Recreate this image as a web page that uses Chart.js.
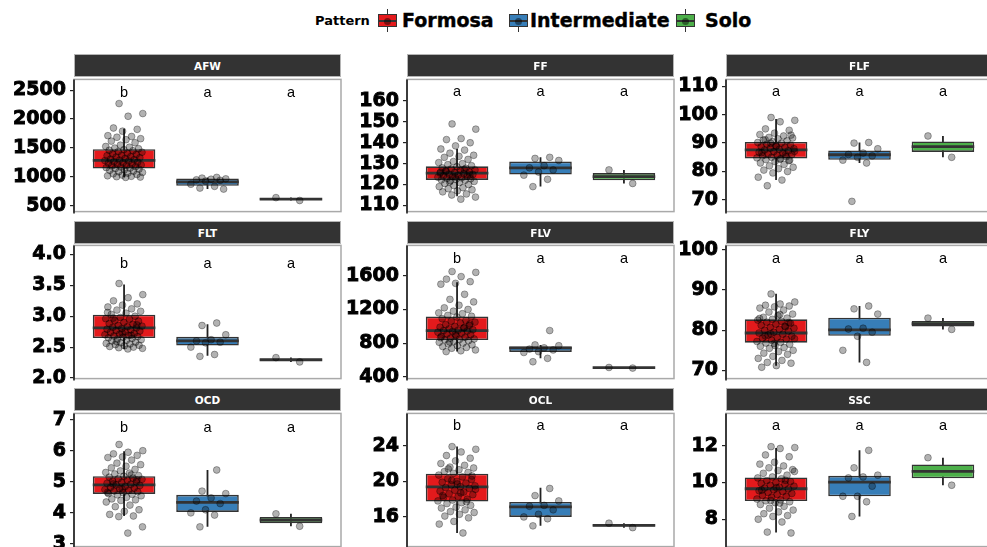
<!DOCTYPE html>
<html>
<head>
<meta charset="utf-8">
<script src="https://cdn.jsdelivr.net/npm/chart.js@4.4.1/dist/chart.umd.min.js"></script>
<style>
  html, body { margin: 0; padding: 0; background: #fff; }
  body { width: 987px; height: 547px; overflow: hidden; position: relative; font-family: 'DejaVu Sans', sans-serif; }
  canvas.panel { position: absolute; }
  .strip { position: absolute; background: #333333; color: #fff; box-sizing: border-box;
           border: 1px solid #b5b5b5; display: flex; align-items: center; justify-content: center;
           font: bold 10.5px 'DejaVu Sans', sans-serif; z-index: 2; }
  .lgtitle { position: absolute; top: 14px; left: 315px; font: bold 13px 'DejaVu Sans', sans-serif; line-height: 1; white-space: nowrap; }
  .lgtext { position: absolute; top: 11px; font: bold 19px 'DejaVu Sans', sans-serif; line-height: 1; white-space: nowrap; -webkit-text-stroke: 0.4px #000; }
  .key { position: absolute; top: 7px; width: 19px; height: 27px; }
  .key i { position: absolute; display: block; }
  .key .wh { left: 8.5px; top: 2px; width: 1.6px; height: 23px; background: #333; }
  .key .bx { left: 0; top: 7px; width: 19px; height: 13px; border: 1px solid #333; box-sizing: border-box; }
  .key .md { left: 0; top: 12.5px; width: 19px; height: 2px; background: #333; }
  .key .dt { left: 6px; top: 10.5px; width: 7px; height: 7px; border-radius: 50%; background: rgba(0,0,0,0.45); }
</style>
</head>
<body>
<script>
// ---- groups and colours ----
const patterns = ['Formosa', 'Intermediate', 'Solo'];
const fills = ['#E41A1C', '#377EB8', '#4DAF4A'];

// ---- AFW ----
const afwFormosa = [2268, 2095, 2048, 1845, 1822, 1790, 1712, 1698, 1685, 1660, 1642, 1618, 1590, 1548, 1525, 1512, 1498, 1486, 1471, 1460, 1452, 1437, 1425, 1408, 1396, 1388, 1372, 1365, 1351, 1342, 1330, 1318, 1306, 1297, 1289, 1281, 1274, 1262, 1255, 1243, 1236, 1224, 1218, 1205, 1196, 1188, 1175, 1168, 1159, 1150, 1142, 1133, 1121, 1112, 1098, 1087, 1076, 1064, 1052, 1041, 1030, 1018, 1009, 1002, 996, 990];
const afwIntermediate = [990, 978, 965, 958, 948, 940, 925, 872, 835, 805, 788];
const afwSolo = [640, 590];
const afwBox = [[995, 1144, 1285, 1478, 1834], [788, 844, 912, 969, 990], [590, 602, 615, 627, 640]];
const afwTicks = [500, 1000, 1500, 2000, 2500];
const afwRange = [398, 2686];
const afwLetters = ['b', 'a', 'a'];
const afwLetterY = 2381;

// ---- FF ----
const ffFormosa = [149, 146.5, 142, 141.5, 140, 138.5, 137, 136.5, 135, 134, 133.5, 133, 132, 131, 130.5, 130, 129.5, 129, 128.5, 128, 127.8, 127.5, 127, 126.8, 126.5, 126, 125.8, 125.5, 125.2, 125, 124.8, 124.5, 124.2, 124, 123.8, 123.5, 123.2, 123, 122.8, 122.5, 122.2, 122, 121.8, 121.5, 121, 120.5, 120, 119.5, 119, 118.5, 118, 117.5, 117, 116.5, 115.5, 115, 114, 113, 126.3, 124.6, 123.6, 125.9, 127.2, 121.2];
const ffIntermediate = [133, 132.5, 131.5, 129, 128, 127, 126, 124.5, 122.5, 119];
const ffSolo = [127, 120.5];
const ffBox = [[114.4, 122.2, 125.5, 128.7, 137], [119, 124.8, 128, 131, 133], [120.5, 122, 123.8, 125.5, 127]];
const ffTicks = [110, 120, 130, 140, 150, 160];
const ffRange = [107.05, 170.3];
const ffLetters = ['a', 'a', 'a'];
const ffLetterY = 162.3;

// ---- FLF ----
const flfFormosa = [99, 98, 97.5, 95, 94.5, 93.5, 93, 92.5, 92, 91.8, 91.5, 91, 90.8, 90.5, 90.2, 90, 89.6, 89.3, 89, 88.7, 88.5, 88.2, 88, 87.8, 87.6, 87.3, 87, 86.8, 86.5, 86.2, 86, 85.7, 85.5, 85.2, 85, 84.8, 84.5, 84.2, 84, 83.5, 83, 82.5, 82, 81.5, 81, 80.5, 80, 79.5, 78, 77, 75, 92.8, 88.9, 86.6, 85.9, 89.9, 87.1, 84.3, 91.2, 83.8];
const flfIntermediate = [90.2, 90, 88, 86.5, 86, 85.5, 85, 84, 83, 69.5];
const flfSolo = [92.5, 85];
const flfBox = [[77, 84.6, 87.6, 90.4, 98.5], [83, 84.1, 85.9, 87.4, 90.2], [85, 86.9, 88.75, 90.6, 92.5]];
const flfTicks = [70, 80, 90, 100, 110];
const flfRange = [65.9, 112.4];
const flfLetters = ['a', 'a', 'a'];
const flfLetterY = 106.6;

// ---- FLT ----
const fltFormosa = [3.53, 3.35, 3.3, 3.25, 3.2, 3.18, 3.15, 3.12, 3.1, 3.08, 3.05, 3.03, 3.0, 2.98, 2.96, 2.95, 2.93, 2.92, 2.9, 2.88, 2.87, 2.85, 2.84, 2.83, 2.82, 2.81, 2.8, 2.79, 2.78, 2.77, 2.76, 2.75, 2.74, 2.72, 2.71, 2.7, 2.69, 2.68, 2.67, 2.66, 2.65, 2.64, 2.63, 2.62, 2.61, 2.6, 2.58, 2.57, 2.56, 2.55, 2.54, 2.53, 2.52, 2.51, 2.5, 2.49, 2.48, 2.47, 2.97, 2.86, 2.73, 3.06, 2.69, 2.59];
const fltIntermediate = [2.89, 2.85, 2.7, 2.62, 2.6, 2.58, 2.57, 2.5, 2.38, 2.35];
const fltSolo = [2.33, 2.26];
const fltBox = [[2.47, 2.646, 2.81, 3.025, 3.515], [2.36, 2.525, 2.6, 2.667, 2.87], [2.26, 2.28, 2.295, 2.31, 2.33]];
const fltTicks = [2.0, 2.5, 3.0, 3.5, 4.0];
const fltRange = [1.99, 4.147];
const fltLetters = ['b', 'a', 'a'];
const fltLetterY = 3.78;

// ---- FLV ----
const flvFormosa = [1650, 1640, 1590, 1560, 1530, 1510, 1500, 1380, 1320, 1290, 1250, 1220, 1200, 1180, 1160, 1150, 1130, 1120, 1110, 1090, 1070, 1060, 1050, 1040, 1020, 1010, 1000, 990, 980, 970, 960, 955, 950, 945, 940, 930, 920, 910, 900, 890, 880, 870, 860, 850, 845, 840, 830, 820, 810, 800, 790, 780, 770, 760, 750, 740, 720, 710, 700, 1030, 905, 865, 985, 815];
const flvIntermediate = [950, 780, 770, 745, 730, 720, 700, 690, 620, 580];
const flvSolo = [512, 505];
const flvBox = [[700, 837, 950, 1116, 1522], [620, 697, 745, 762, 780], [505, 507, 509, 510, 512]];
const flvTicks = [400, 800, 1200, 1600];
const flvRange = [380, 1960];
const flvLetters = ['b', 'a', 'a'];
const flvLetterY = 1751;

// ---- FLY ----
const flyFormosa = [89, 87, 86.5, 86.2, 86, 85.8, 85.5, 85, 84.5, 84, 83.6, 83.2, 83, 82.7, 82.5, 82.2, 82, 81.7, 81.5, 81.2, 81, 80.7, 80.5, 80.2, 80, 79.8, 79.5, 79.3, 79, 78.8, 78.5, 78.2, 78, 77.8, 77.5, 77.2, 77, 76.8, 76.5, 76.2, 76, 75.7, 75.5, 75, 74.7, 74.3, 74, 73.5, 73, 72.5, 72, 71.8, 71.2, 70.8, 80.8, 79.1, 77.9, 83.9, 78.6, 81.9, 76.7, 82.9];
const flyIntermediate = [86, 85.3, 84, 80.5, 80.3, 79.5, 78.5, 75, 72];
const flySolo = [83, 80.2];
const flyBox = [[71.2, 76.9, 79.3, 82.7, 89.05], [72, 78.6, 80.1, 83.1, 86], [80.2, 80.9, 81.6, 82.3, 83]];
const flyTicks = [70, 80, 90, 100];
const flyRange = [67.98, 101.05];
const flyLetters = ['a', 'a', 'a'];
const flyLetterY = 96.7;

// ---- OCD ----
const ocdFormosa = [6.2, 6.0, 5.95, 5.9, 5.85, 5.8, 5.78, 5.7, 5.6, 5.55, 5.5, 5.45, 5.4, 5.35, 5.3, 5.28, 5.25, 5.2, 5.18, 5.15, 5.12, 5.1, 5.08, 5.05, 5.02, 5.0, 4.98, 4.95, 4.92, 4.9, 4.88, 4.85, 4.82, 4.8, 4.78, 4.75, 4.72, 4.7, 4.68, 4.65, 4.62, 4.6, 4.58, 4.55, 4.5, 4.45, 4.42, 4.4, 4.35, 4.25, 4.2, 4.1, 4.05, 3.95, 3.9, 3.88, 3.55, 3.35, 4.93, 5.06, 4.76, 4.66, 5.22];
const ocdIntermediate = [5.38, 4.7, 4.62, 4.48, 4.38, 4.3, 4.1, 4.0, 3.93, 3.55];
const ocdSolo = [3.97, 3.57];
const ocdBox = [[3.9, 4.61, 4.9, 5.18, 5.98], [3.55, 4.03, 4.34, 4.58, 5.38], [3.57, 3.67, 3.77, 3.87, 3.97]];
const ocdTicks = [3, 4, 5, 6, 7];
const ocdRange = [2.915, 7.2];
const ocdLetters = ['b', 'a', 'a'];
const ocdLetterY = 6.6;

// ---- OCL ----
const oclFormosa = [23.9, 23.6, 23.3, 22.9, 22.6, 22.3, 22.0, 21.8, 21.6, 21.5, 21.3, 21.1, 21.0, 20.9, 20.7, 20.5, 20.3, 20.2, 20.0, 19.9, 19.8, 19.6, 19.5, 19.4, 19.3, 19.2, 19.0, 18.9, 18.8, 18.6, 18.5, 18.3, 18.2, 18.0, 17.9, 17.8, 17.6, 17.5, 17.3, 17.1, 17.0, 16.8, 16.6, 16.5, 16.3, 16.1, 15.9, 15.5, 15.2, 14.2, 21.4, 20.6, 19.7, 18.4, 17.7, 20.1, 19.1, 18.7];
const oclIntermediate = [19.2, 18.4, 17.8, 17.3, 17.2, 16.8, 16.3, 16.0, 15.8, 15.0];
const oclSolo = [15.3, 14.8];
const oclBox = [[14.2, 17.73, 19.38, 20.85, 23.9], [15.0, 16.0, 17.13, 17.68, 19.27], [14.8, 14.93, 15.05, 15.18, 15.3]];
const oclTicks = [16, 20, 24];
const oclRange = [12.67, 27.63];
const oclLetters = ['b', 'a', 'a'];
const oclLetterY = 25.76;

// ---- SSC ----
const sscFormosa = [11.95, 11.9, 11.85, 11.5, 11.4, 11.1, 11.0, 10.9, 10.8, 10.7, 10.65, 10.5, 10.4, 10.3, 10.25, 10.2, 10.1, 10.05, 10.0, 9.95, 9.9, 9.85, 9.8, 9.75, 9.7, 9.65, 9.6, 9.55, 9.5, 9.45, 9.4, 9.35, 9.3, 9.25, 9.2, 9.1, 9.05, 9.0, 8.95, 8.9, 8.8, 8.7, 8.6, 8.5, 8.4, 8.3, 8.2, 8.15, 8.0, 7.85, 7.3, 7.25, 9.72, 9.58, 10.12, 9.02, 10.6, 8.88];
const sscIntermediate = [11.75, 10.8, 10.4, 10.3, 10.25, 9.8, 9.25, 9.25, 8.95, 8.15];
const sscSolo = [11.35, 9.85];
const sscBox = [[7.28, 8.99, 9.66, 10.27, 11.88], [8.15, 9.25, 10.02, 10.36, 11.75], [9.85, 10.23, 10.6, 10.98, 11.35]];
const sscTicks = [8, 10, 12];
const sscRange = [6.51, 13.76];
const sscLetters = ['a', 'a', 'a'];
const sscLetterY = 12.85;

// ---- facet table ----
const panels = [
  { name: 'AFW', groups: [afwFormosa, afwIntermediate, afwSolo], box: afwBox, ticks: afwTicks, range: afwRange, letters: afwLetters, letterY: afwLetterY },
  { name: 'FF',  groups: [ffFormosa, ffIntermediate, ffSolo],    box: ffBox,  ticks: ffTicks,  range: ffRange,  letters: ffLetters,  letterY: ffLetterY },
  { name: 'FLF', groups: [flfFormosa, flfIntermediate, flfSolo], box: flfBox, ticks: flfTicks, range: flfRange, letters: flfLetters, letterY: flfLetterY },
  { name: 'FLT', groups: [fltFormosa, fltIntermediate, fltSolo], box: fltBox, ticks: fltTicks, range: fltRange, letters: fltLetters, letterY: fltLetterY },
  { name: 'FLV', groups: [flvFormosa, flvIntermediate, flvSolo], box: flvBox, ticks: flvTicks, range: flvRange, letters: flvLetters, letterY: flvLetterY },
  { name: 'FLY', groups: [flyFormosa, flyIntermediate, flySolo], box: flyBox, ticks: flyTicks, range: flyRange, letters: flyLetters, letterY: flyLetterY },
  { name: 'OCD', groups: [ocdFormosa, ocdIntermediate, ocdSolo], box: ocdBox, ticks: ocdTicks, range: ocdRange, letters: ocdLetters, letterY: ocdLetterY },
  { name: 'OCL', groups: [oclFormosa, oclIntermediate, oclSolo], box: oclBox, ticks: oclTicks, range: oclRange, letters: oclLetters, letterY: oclLetterY },
  { name: 'SSC', groups: [sscFormosa, sscIntermediate, sscSolo], box: sscBox, ticks: sscTicks, range: sscRange, letters: sscLetters, letterY: sscLetterY }
];

// ---- page geometry ----
const colLeft = [74, 407, 726];
const plotW = 267;
const rowTop = [78, 244, 412];
const plotH = [135, 136, 136];
const stripTop = [54, 221, 388];
const stripH = 23;
const AXIS_W = 74;
const PAD = 14;
const PAD_R = 6;
const BOX_WIDTH = 0.75;
const JITTER = 0.23;

// spread points sideways within the jitter band (golden-ratio sequence)
function jitterOffset(i, g) {
  const f = (i * 0.6180339887 + 0.37 * (g + 1)) % 1;
  return (f - 0.5) * 2 * JITTER;
}

// whiskers behind the boxes, medians on top of them, frame and letters last
function boxParts(panel) {
  return {
    id: 'boxParts',
    beforeDatasetDraw(chart, args) {
      if (args.index !== 0) return;
      const { ctx, chartArea: a, scales: { x, y } } = chart;
      ctx.save();
      ctx.beginPath(); ctx.rect(a.left, a.top, a.right - a.left, a.bottom - a.top); ctx.clip();
      ctx.strokeStyle = '#222222';
      ctx.lineWidth = 1.8;
      panel.box.forEach((s, g) => {
        const px = x.getPixelForValue(g + 1);
        ctx.beginPath();
        ctx.moveTo(px, y.getPixelForValue(s[0]));
        ctx.lineTo(px, y.getPixelForValue(s[4]));
        ctx.stroke();
      });
      ctx.restore();
    },
    afterDatasetDraw(chart, args) {
      if (args.index !== 0) return;
      const { ctx, chartArea: a, scales: { x, y } } = chart;
      ctx.save();
      ctx.beginPath(); ctx.rect(a.left, a.top, a.right - a.left, a.bottom - a.top); ctx.clip();
      ctx.strokeStyle = '#333333';
      ctx.lineWidth = 2.8;
      panel.box.forEach((s, g) => {
        const py = y.getPixelForValue(s[2]);
        ctx.beginPath();
        ctx.moveTo(x.getPixelForValue(g + 1 - BOX_WIDTH / 2), py);
        ctx.lineTo(x.getPixelForValue(g + 1 + BOX_WIDTH / 2), py);
        ctx.stroke();
      });
      ctx.restore();
    },
    afterDraw(chart) {
      const { ctx, chartArea: a, scales: { x, y } } = chart;
      ctx.save();
      ctx.strokeStyle = '#a9a9a9';
      ctx.lineWidth = 1.5;
      ctx.strokeRect(a.left, a.top, a.right - a.left, a.bottom - a.top);
      ctx.strokeStyle = '#111';
      ctx.beginPath(); ctx.moveTo(a.left, a.top); ctx.lineTo(a.left, a.bottom + 2); ctx.stroke();
      ctx.fillStyle = '#000';
      ctx.font = '14.5px "Liberation Sans", Arial, sans-serif';
      ctx.textAlign = 'center';
      ctx.textBaseline = 'alphabetic';
      panel.letters.forEach((t, g) => {
        ctx.fillText(t, x.getPixelForValue(g + 1), y.getPixelForValue(panel.letterY));
      });
      ctx.restore();
    }
  };
}

function tickText(v, ticks) {
  const frac = ticks.some(t => Math.round(t) !== t);
  return frac ? v.toFixed(1) : String(v);
}

panels.forEach((panel, k) => {
  const r = Math.floor(k / 3), c = k % 3;

  const cv = document.createElement('canvas');
  cv.className = 'panel';
  cv.width = AXIS_W + plotW + PAD_R;
  cv.height = plotH[r] + 2 * PAD;
  cv.style.left = (colLeft[c] - AXIS_W) + 'px';
  cv.style.top = (rowTop[r] - PAD) + 'px';
  document.body.appendChild(cv);

  const strip = document.createElement('div');
  strip.className = 'strip';
  strip.textContent = panel.name;
  strip.style.left = colLeft[c] + 'px';
  strip.style.top = stripTop[r] + 'px';
  strip.style.width = plotW + 'px';
  strip.style.height = stripH + 'px';
  document.body.appendChild(strip);

  const boxData = panel.box.map((s, g) => ({ x: g + 1, y: [s[1], s[3]] }));
  const pointData = [];
  panel.groups.forEach((vals, g) => {
    vals.forEach((v, i) => pointData.push({ x: g + 1 + jitterOffset(i, g), y: v }));
  });

  new Chart(cv, {
    type: 'bar',
    data: {
      datasets: [
        {
          label: 'box',
          data: boxData,
          backgroundColor: fills,
          borderColor: '#333333',
          borderWidth: 1.6,
          borderSkipped: false,
          barPercentage: BOX_WIDTH,
          categoryPercentage: 1,
          order: 2
        },
        {
          type: 'scatter',
          label: 'obs',
          data: pointData,
          pointRadius: 3.4,
          pointBackgroundColor: 'rgba(0,0,0,0.3)',
          pointBorderColor: 'rgba(0,0,0,0.4)',
          pointBorderWidth: 0.8,
          order: 1
        }
      ]
    },
    options: {
      responsive: false,
      animation: false,
      devicePixelRatio: 1,
      events: [],
      layout: { padding: { top: PAD, bottom: PAD, left: 0, right: PAD_R } },
      plugins: { legend: { display: false }, tooltip: { enabled: false } },
      scales: {
        x: {
          type: 'linear', min: 0.4, max: 3.6, offset: false, display: false,
          afterBuildTicks: s => { s.ticks = [1, 2, 3].map(v => ({ value: v })); }
        },
        y: {
          type: 'linear', min: panel.range[0], max: panel.range[1],
          afterBuildTicks: s => { s.ticks = panel.ticks.map(v => ({ value: v })); },
          afterFit: s => { s.width = AXIS_W; },
          border: { display: false },
          grid: { display: true, drawOnChartArea: false, drawTicks: true, tickLength: 4, color: '#222', lineWidth: 1.2 },
          ticks: {
            color: '#000', padding: 4, autoSkip: false,
            textStrokeColor: '#000', textStrokeWidth: 0.9,
            font: { family: 'DejaVu Sans', weight: 'bold', size: 19 },
            callback: v => tickText(v, panel.ticks)
          }
        }
      }
    },
    plugins: [boxParts(panel)]
  });
});

// ---- legend ----
const title = document.createElement('div');
title.className = 'lgtitle';
title.textContent = 'Pattern';
document.body.appendChild(title);

const keyLeft = [378, 509, 676];
const textLeft = [402, 530, 705];
patterns.forEach((p, g) => {
  const key = document.createElement('div');
  key.className = 'key';
  key.style.left = keyLeft[g] + 'px';
  key.innerHTML = '<i class="wh"></i><i class="bx" style="background:' + fills[g] + '"></i><i class="md"></i><i class="dt"></i>';
  document.body.appendChild(key);
  const t = document.createElement('div');
  t.className = 'lgtext';
  t.style.left = textLeft[g] + 'px';
  t.textContent = p;
  document.body.appendChild(t);
});
</script>
</body>
</html>
